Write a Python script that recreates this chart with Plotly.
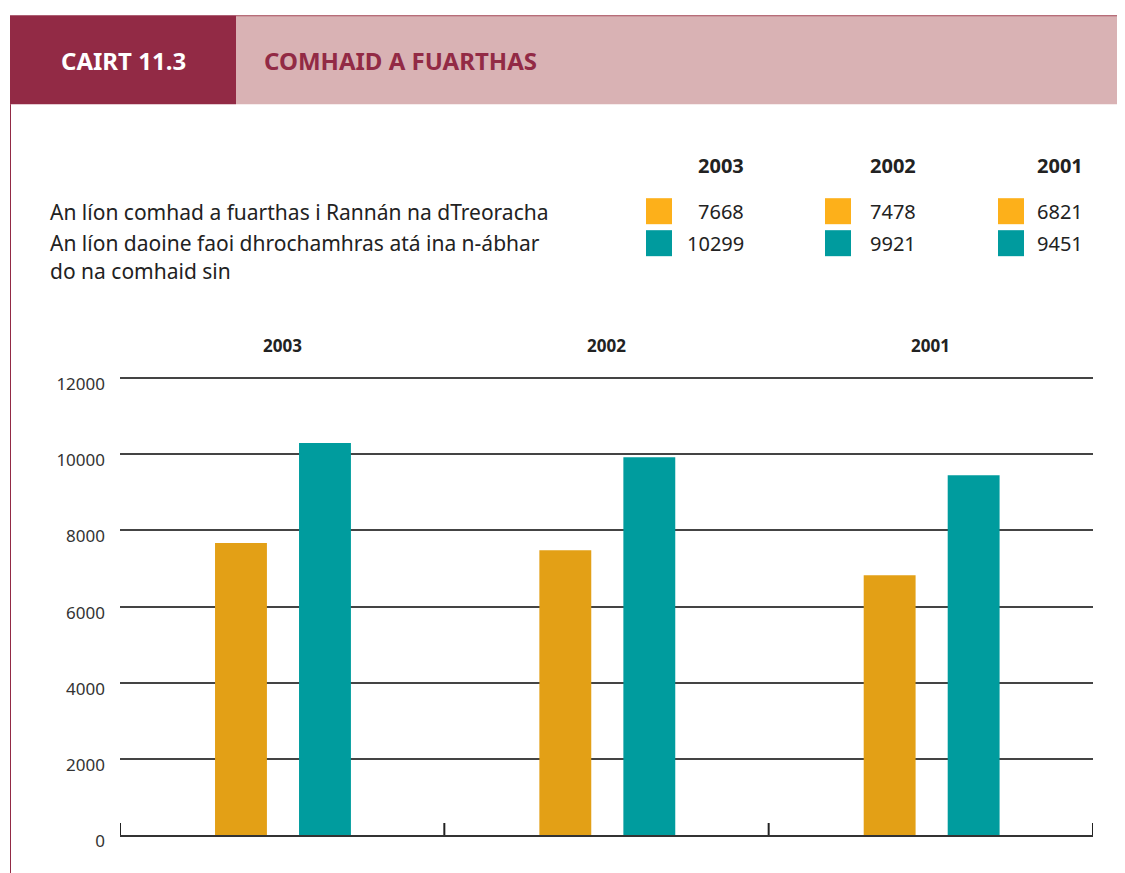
import plotly.graph_objects as go

# data
years = ["2003", "2002", "2001"]
cases = [7668, 7478, 6821]          # An líon comhad a fuarthas
people = [10299, 9921, 9451]        # An líon daoine faoi dhrochamhras
y_ticks = [0, 2000, 4000, 6000, 8000, 10000, 12000]

# page body adds an 8px margin, so the figure is drawn 8px in from the corner
OFF = 8
W, H = 1125 - OFF, 873 - OFF
Y_TOP = 12030
L, R, B = 120 - OFF, 1093 - OFF, 835 - OFF
T = B - (Y_TOP / 12000) * (835 - 378)

BAR_ORANGE = "#E3A016"
BAR_TEAL = "#009C9E"
SW_ORANGE = "#FDB01A"
SW_TEAL = "#009B9E"
WINE = "#922A45"
PINK = "#D9B2B4"
FONT = "Noto Sans"


def px(x):
    return (x - OFF - L) / (R - L)


def py(y):
    return (B - (y - OFF)) / (B - T)


xs = list(range(len(years)))
bounds = [i - 0.5 for i in range(len(years) + 1)]

fig = go.Figure()
fig.add_trace(go.Bar(x=xs, y=cases, name="comhad", marker_color=BAR_ORANGE,
                     width=0.16, offset=-0.207, marker_line_width=0))
fig.add_trace(go.Bar(x=xs, y=people, name="daoine", marker_color=BAR_TEAL,
                     width=0.16, offset=0.052, marker_line_width=0))

shapes = [
    # header blocks
    dict(type="rect", xref="paper", yref="paper", x0=px(10), x1=px(236), y0=py(104), y1=py(15),
         fillcolor=WINE, line_width=0, layer="below"),
    dict(type="rect", xref="paper", yref="paper", x0=px(236), x1=px(1125), y0=py(104), y1=py(15),
         fillcolor=PINK, line_width=0, layer="below"),
    dict(type="line", xref="paper", yref="paper", x0=px(236), x1=px(1125), y0=py(15.5), y1=py(15.5),
         line=dict(color="#A8505F", width=1)),
    # left border
    dict(type="line", xref="paper", yref="paper", x0=px(10.5), x1=px(10.5), y0=py(104), y1=py(873),
         line=dict(color=WINE, width=1)),
]

# category boundary ticks on the base line (plotly drops the ones on the plot edges)
for b in bounds:
    shapes.append(dict(type="line", xref="x", yref="paper", x0=b, x1=b, y0=0, y1=py(823),
                       line=dict(color="#222222", width=2)))

annotations = [
    dict(text="<b>CAIRT 11.3</b>", xref="paper", yref="paper", x=px(59), y=py(60),
         xanchor="left", yanchor="middle", showarrow=False,
         font=dict(family=FONT, size=24, color="white")),
    dict(text="<b>COMHAID A FUARTHAS</b>", xref="paper", yref="paper", x=px(262), y=py(60),
         xanchor="left", yanchor="middle", showarrow=False,
         font=dict(family=FONT, size=24, color=WINE)),
]

# descriptive text on the left
desc_lines = ["An líon comhad a fuarthas i Rannán na dTreoracha",
              "An líon daoine faoi dhrochamhras atá ina n-ábhar",
              "do na comhaid sin"]
for line, yy in zip(desc_lines, [212, 243, 271]):
    annotations.append(dict(text=line, xref="paper", yref="paper", x=px(48), y=py(yy),
                            xanchor="left", yanchor="middle", showarrow=False,
                            font=dict(family=FONT, size=21, color="#222222")))

# legend table
col_right = [746, 918, 1085]
col_swatch = [646, 825, 998]
for yr, c, p, xr, xsw in zip(years, cases, people, col_right, col_swatch):
    annotations.append(dict(text=f"<b>{yr}</b>", xref="paper", yref="paper", x=px(xr), y=py(165),
                            xanchor="right", yanchor="middle", showarrow=False,
                            font=dict(family=FONT, size=20, color="#222222")))
    for val, yy, col in [(c, 211, SW_ORANGE), (p, 243, SW_TEAL)]:
        annotations.append(dict(text=str(val), xref="paper", yref="paper", x=px(xr), y=py(yy),
                                xanchor="right", yanchor="middle", showarrow=False,
                                font=dict(family=FONT, size=20, color="#222222")))
        shapes.append(dict(type="rect", xref="paper", yref="paper", x0=px(xsw), x1=px(xsw + 26),
                           y0=py(yy + 13), y1=py(yy - 13), fillcolor=col, line_width=0))

# year labels above the groups
for i, yr in enumerate(years):
    annotations.append(dict(text=f"<b>{yr}</b>", x=i, xref="x", yref="paper", y=py(345),
                            xanchor="center", yanchor="middle", showarrow=False,
                            font=dict(family=FONT, size=17, color="#222222")))

fig.update_layout(
    width=W, height=H,
    margin=dict(l=L, r=W - R, t=T, b=H - B, pad=0),
    paper_bgcolor="white", plot_bgcolor="white",
    showlegend=False,
    barmode="overlay",
    shapes=shapes,
    annotations=annotations,
    font=dict(family=FONT, color="#333333"),
    xaxis=dict(range=[bounds[0], bounds[-1]], showticklabels=False, ticks="",
               showgrid=False, showline=True, linecolor="#333333", linewidth=2, zeroline=False),
    yaxis=dict(range=[0, Y_TOP], tickvals=y_ticks, ticktext=[str(v) for v in y_ticks],
               showgrid=True, gridcolor="#444444", gridwidth=1.5,
               zeroline=False, showline=False, ticks="", ticklabelstandoff=14, ticklabelshift=6,
               tickfont=dict(family=FONT, size=17, color="#333333")),
)

fig.write_html("out.html")
